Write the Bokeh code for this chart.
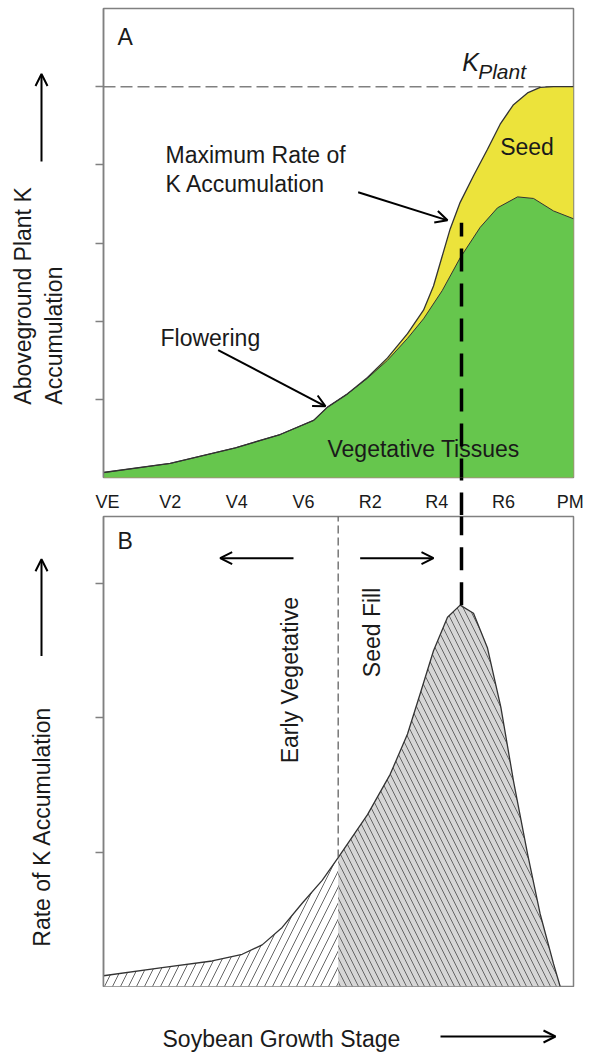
import math
from bokeh.plotting import figure
from bokeh.layouts import column, row
from bokeh.models import Range1d, FixedTicker, Label, Arrow, OpenHead, CustomJSTickFormatter
from bokeh.embed import file_html
from bokeh.resources import INLINE

# ---------------- data ----------------
stages = ["VE", "V2", "V4", "V6", "R2", "R4", "R6", "PM"]
stage_pos = [0, 1, 2, 3, 4, 5, 6, 7]

# Panel A: aboveground plant K accumulation (total = vegetative + seed)
total_x = [0, 1.0, 1.98, 2.65, 3.15, 3.36, 3.66, 3.96, 4.26, 4.56, 4.80, 4.95,
           5.08, 5.20, 5.35, 5.55, 5.76, 5.95, 6.15, 6.36, 6.55, 6.75, 7.05]
total_k = [0.064, 0.18, 0.38, 0.55, 0.73, 0.90, 1.07, 1.28, 1.53, 1.84, 2.14, 2.45,
           2.83, 3.18, 3.52, 3.86, 4.20, 4.52, 4.77, 4.92, 4.99, 5.0, 5.0]
veg_x = [0, 1.0, 1.98, 2.65, 3.15, 3.36, 3.66, 3.96, 4.26, 4.56, 4.80, 5.08,
         5.35, 5.65, 5.91, 6.21, 6.45, 6.75, 7.05]
veg_k = [0.064, 0.18, 0.38, 0.55, 0.73, 0.90, 1.07, 1.27, 1.50, 1.78, 2.03, 2.39,
         2.81, 3.20, 3.45, 3.59, 3.57, 3.41, 3.31]
k_plant = 5.0

# Panel B: rate of K accumulation
rate_x = [0, 0.88, 1.63, 2.08, 2.38, 2.68, 2.98, 3.28, 3.52, 3.96, 4.30, 4.56, 4.75,
          4.95, 5.16, 5.35, 5.55, 5.76, 5.96, 6.15, 6.36, 6.55, 6.75, 6.85]
rate_k = [0.08, 0.14, 0.19, 0.24, 0.31, 0.44, 0.62, 0.79, 0.96, 1.28, 1.58, 1.88, 2.18,
          2.50, 2.75, 2.84, 2.78, 2.52, 2.08, 1.53, 0.99, 0.54, 0.17, 0.0]
seed_fill_start = 3.52
max_rate_stage = 5.37
max_rate_value = 2.84

# ---------------- layout constants (page pixels) ----------------
FONT = "Liberation Sans"
GRAY = "#808080"
TXT = "#1a1a1a"
GREEN = "#66c64d"
YELLOW = "#ece33b"
STRIP_W = 95          # left strip holding the y titles
PANEL_W = 490         # 8 (ticks) + 470 frame + 12
FULL_W = STRIP_W + PANEL_W
X0, X1 = 0, 7.05      # stage axis range
H_A, H_B, H_BOT = 515, 472, 65
GAP = 38
DASH = "23 12"

def style(p, ticks):
    p.grid.visible = False
    p.outline_line_color = GRAY
    p.outline_line_width = 1.5
    p.yaxis.ticker = FixedTicker(ticks=ticks)
    p.yaxis.formatter = CustomJSTickFormatter(code="return ''")
    p.yaxis.major_label_standoff = 0
    p.yaxis.major_tick_out = 8
    p.yaxis.major_tick_in = 0
    p.yaxis.minor_tick_line_color = None
    p.yaxis.major_tick_line_color = GRAY
    p.yaxis.major_tick_line_width = 1.5
    p.yaxis.axis_line_color = GRAY
    p.yaxis.axis_line_width = 1.5

def lab(p, x, y, text, size="23px", angle=0, align="left", style_="normal"):
    p.add_layout(Label(x=x, y=y, text=text, text_font=FONT, text_font_size=size,
                       text_color=TXT, angle=angle, text_align=align,
                       text_baseline="alphabetic", text_font_style=style_))

def arrow(p, x0, y0, x1, y1, head=True, width=2, dash="solid", color="black"):
    p.add_layout(Arrow(x_start=x0, y_start=y0, x_end=x1, y_end=y1,
                       end=OpenHead(size=12, line_width=2, line_color=color) if head else None,
                       line_width=width, line_dash=dash, line_color=color))

def strip(w, h, xr, yr):
    p = figure(width=w, height=h, x_range=xr, y_range=yr, output_backend="svg",
               toolbar_location=None, x_axis_location=None, y_axis_location=None,
               min_border_left=0, min_border_right=0, min_border_top=0, min_border_bottom=0)
    p.grid.visible = False
    p.outline_line_color = None
    return p

# ---------------- Panel A (its x axis carries the stage labels) ----------------
pA = figure(width=PANEL_W, height=H_A, x_range=Range1d(X0, X1), y_range=Range1d(0, 6),
            output_backend="svg", toolbar_location=None, x_axis_location="below",
            min_border_left=8, min_border_right=12, min_border_top=8, min_border_bottom=GAP)
style(pA, [1, 2, 3, 4, 5])
ax = pA.xaxis[0]
ax.ticker = FixedTicker(ticks=stage_pos, minor_ticks=[max_rate_stage])
ax.major_label_overrides = {pos: s for pos, s in zip(stage_pos, stages)}
ax.axis_line_color = None
ax.major_tick_line_color = None
ax.major_tick_out = 0
ax.major_tick_in = 0
ax.major_label_text_font = FONT
ax.major_label_text_font_size = "18px"
ax.major_label_text_color = TXT
# the vertical "maximum rate" dashed line crossing the gap between panels
ax.minor_tick_out = GAP
ax.minor_tick_in = 0
ax.minor_tick_line_color = "black"
ax.minor_tick_line_width = 3.5
ax.minor_tick_line_dash = DASH
ax.major_label_standoff = 14 - GAP   # labels sit 14px below the frame despite the long minor tick

pA.segment(x0=[0], y0=[k_plant], x1=[6.75], y1=[k_plant], line_color=GRAY,
           line_width=1.5, line_dash="12 5")
pA.varea(x=total_x, y1=0, y2=total_k, fill_color=YELLOW)
pA.varea(x=veg_x, y1=0, y2=veg_k, fill_color=GREEN)
pA.line(total_x, total_k, line_color="#333333", line_width=1.3)
pA.line(veg_x, veg_k, line_color="#333333", line_width=1.0)

lab(pA, 0.21, 5.64, "A")
lab(pA, 5.38, 5.32, "K", size="25px", style_="italic")
lab(pA, 5.62, 5.20, "Plant", size="21px", style_="italic")
lab(pA, 5.95, 4.23, "Seed")
lab(pA, 0.93, 4.12, "Maximum Rate of")
lab(pA, 0.93, 3.75, "K Accumulation")
arrow(pA, 3.82, 3.65, 5.16, 3.29)
lab(pA, 0.855, 1.785, "Flowering")
arrow(pA, 1.72, 1.63, 3.33, 0.91)
lab(pA, 3.36, 0.36, "Vegetative  Tissues")
arrow(pA, max_rate_stage, -0.05, max_rate_stage, 3.26, head=False, width=3.5, dash=DASH)

# ---------------- Panel B ----------------
pB = figure(width=PANEL_W, height=H_B, x_range=Range1d(X0, X1), y_range=Range1d(0, 3.5),
            output_backend="svg", toolbar_location=None, x_axis_location=None,
            min_border_left=8, min_border_right=12, min_border_top=1, min_border_bottom=1)
style(pB, [1, 2, 3])

k = rate_x.index(seed_fill_start)
pB.varea(x=rate_x[:k + 1], y1=0, y2=rate_k[:k + 1], fill_color="white",
         hatch_pattern="/", hatch_color="#666666", hatch_scale=16, hatch_weight=1)
pB.varea(x=rate_x[k:], y1=0, y2=rate_k[k:], fill_color="#d6d6d6",
         hatch_pattern="\\", hatch_color="#666666", hatch_scale=12, hatch_weight=1)
pB.line(rate_x, rate_k, line_color="#333333", line_width=1.3)
pB.segment(x0=[seed_fill_start], y0=[rate_k[k]], x1=[seed_fill_start], y1=[3.5],
           line_color="#555555", line_width=1.2, line_dash="8 4")

lab(pB, 0.21, 3.315, "B")
arrow(pB, 2.85, 3.19, 1.75, 3.19)
arrow(pB, 3.85, 3.19, 4.95, 3.19)
lab(pB, 2.80, 2.90, "Early Vegetative", angle=math.pi / 2, align="right")
lab(pB, 4.02, 2.97, "Seed Fill", angle=math.pi / 2, align="right")
arrow(pB, max_rate_stage, max_rate_value, max_rate_stage, 3.6, head=False, width=3.5, dash=DASH)

# ---------------- left strips with y titles (page pixel coordinates) ----------------
leftA = strip(STRIP_W, H_A, Range1d(0, STRIP_W), Range1d(0, H_A))
lab(leftA, 22, H_A - 435, "Aboveground Plant K", angle=math.pi / 2)
lab(leftA, 53, H_A - 435, "Accumulation", angle=math.pi / 2)
arrow(leftA, 41, H_A - 168, 41, H_A - 72)

B_BOTTOM = H_A + H_B
leftB = strip(STRIP_W, H_B, Range1d(0, STRIP_W), Range1d(0, H_B))
lab(leftB, 41, B_BOTTOM - 947, "Rate of K Accumulation", angle=math.pi / 2)
arrow(leftB, 41, B_BOTTOM - 655, 41, B_BOTTOM - 558)

# ---------------- bottom strip with x title ----------------
bottom = strip(FULL_W, H_BOT, Range1d(0, FULL_W), Range1d(0, H_BOT))
lab(bottom, 162, 14, "Soybean Growth Stage")
arrow(bottom, 440, 16, 555, 16)

layout = column(row(leftA, pA, spacing=0), row(leftB, pB, spacing=0), bottom, spacing=0)
open("out.html", "w").write(file_html(layout, INLINE))
